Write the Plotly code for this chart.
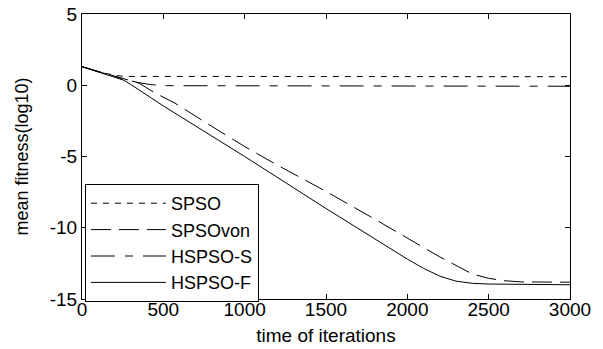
import plotly.graph_objects as go

# iterations and mean fitness (log10)
spso_x = [0, 100, 200, 260, 3000]
spso_y = [1.3, 0.95, 0.7, 0.62, 0.6]

spsovon_x = [0, 250, 350, 450, 572, 800, 1000, 1200, 1500, 1800, 2000, 2200, 2400, 2500, 2600, 2700, 3000]
spsovon_y = [1.3, 0.45, 0.15, -0.55, -1.26, -2.9, -4.3, -5.6, -7.45, -9.4, -10.7, -12.05, -13.25, -13.55, -13.72, -13.8, -13.82]

hspsos_x = [0, 250, 340, 420, 500, 3000]
hspsos_y = [1.3, 0.45, 0.2, 0.05, -0.03, -0.07]

hspsof_x = [0, 100, 200, 258, 300, 400, 500, 1000, 1500, 2000, 2100, 2200, 2300, 2400, 2500, 3000]
hspsof_y = [1.3, 0.95, 0.6, 0.35, 0.05, -0.7, -1.45, -5.0, -8.65, -12.2, -12.85, -13.4, -13.75, -13.9, -13.95, -14.0]

names = ["SPSO", "SPSOvon", "HSPSO-S", "HSPSO-F"]
dashes = ["6px,6px", "20px,8px,20px,8px", "24px,10px,8px,10px", "solid"]

xticks = [0, 500, 1000, 1500, 2000, 2500, 3000]
yticks = [5, 0, -5, -10, -15]
yticktext = ["5", "0", "-5", "-10", "-15"]

FONT = "Arial, Liberation Sans, sans-serif"

fig = go.Figure()
series = [(spso_x, spso_y), (spsovon_x, spsovon_y), (hspsos_x, hspsos_y), (hspsof_x, hspsof_y)]
for (xs, ys), name, dash in zip(series, names, dashes):
    fig.add_trace(go.Scatter(
        x=xs, y=ys, mode="lines", name=name,
        line=dict(color="black", width=1, dash=dash),
    ))

axis_common = dict(
    showgrid=False, zeroline=False, showline=True, linecolor="black", linewidth=1,
    mirror="ticks", ticks="inside", ticklen=5, tickcolor="black", automargin=False,
    tickfont=dict(family=FONT, size=19, color="black"),
)

fig.update_layout(
    width=603, height=349,
    margin=dict(l=82, r=33, t=14, b=50),
    paper_bgcolor="white", plot_bgcolor="white",
    font=dict(family=FONT, size=19, color="black"),
    showlegend=True,
    legend=dict(
        x=0.006, y=0.4035, xanchor="left", yanchor="top",
        bgcolor="white", bordercolor="black", borderwidth=1,
        font=dict(family=FONT, size=18, color="black"),
        tracegroupgap=0, itemwidth=75, entrywidth=110, entrywidthmode="pixels",
    ),
    xaxis=dict(range=[0, 3000], tickvals=xticks, ticklabelstandoff=-7, **axis_common,
               title=dict(text="time of iterations", font=dict(family=FONT, size=19), standoff=9)),
    yaxis=dict(range=[-15, 5], tickvals=yticks, ticktext=yticktext, **axis_common,
               title=dict(text="mean fitness(log10)", font=dict(family=FONT, size=18), standoff=16)),
)

fig.write_html("out.html")
